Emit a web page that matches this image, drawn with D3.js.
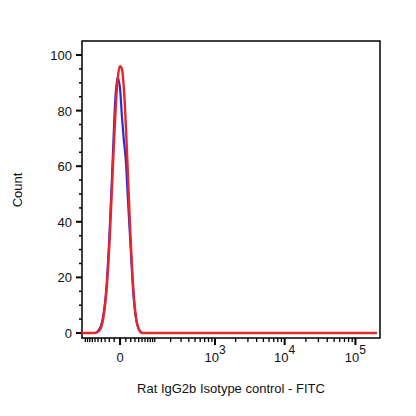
<!DOCTYPE html><html><head><script src="https://cdn.jsdelivr.net/npm/d3@7"></script>
<style>body{margin:0;background:#fff}text{font-family:"Liberation Sans",Arial,sans-serif;fill:#111}</style></head><body>
<svg id="c" width="416" height="416"></svg>
<script>
const redX=[-120,-60,-45,-35,-25,-18,-12,-7,-3,0,3,7,12,18,25,32,40,50,70,200000];
const redY=[0,0,1,5,18,38,62,82,93,96,95,86,66,40,18,6,1.5,0,0,0];
const blueX=[-120,-60,-48,-38,-28,-20,-13,-8,-4,0,3,6,10,14,20,26,33,42,52,70,200000];
const blueY=[0,0,1,4,14,34,62,84,92,88,78,70,62,48,30,14,5,1,0,0,0];
const yTicks=[0,20,40,60,80,100];
const xMajor=[0,1000,10000,100000];
const xMajorLabels=["0","3","4","5"];
const xLabel="Rat IgG2b Isotype control - FITC", yLabel="Count";

const svg=d3.select("#c");
const L=82,R=380,T=41,B=338;
const x=d3.scaleSymlog().constant(48).domain([-117,222000]).range([L,R]);
const y=d3.scaleLinear().domain([0,100]).range([333,55]);
svg.append("rect").attr("x",L).attr("y",T).attr("width",R-L).attr("height",B-T).attr("fill","none").attr("stroke","#000").attr("stroke-width",1.5);
d3.range(0,101,5).forEach(v=>{const maj=v%20===0;
 svg.append("line").attr("x1",L).attr("x2",L-(maj?6:3)).attr("y1",y(v)).attr("y2",y(v)).attr("stroke","#000").attr("stroke-width",maj?2:1.5);});
yTicks.forEach(v=>svg.append("text").attr("x",L-10).attr("y",y(v)+5).attr("text-anchor","end").attr("font-size",13).text(v));
const minors=[];
[-100,-90,-80,-70,-60,-50,-40,-30,-20,-10,10,20,30,40,50,60,70,80,90,100].forEach(v=>minors.push(v));
[100,1000,10000].forEach(d=>{for(let k=2;k<=9;k++)minors.push(k*d);});
minors.forEach(v=>svg.append("line").attr("x1",x(v)).attr("x2",x(v)).attr("y1",B).attr("y2",B+4).attr("stroke","#000").attr("stroke-width",1.3));
xMajor.forEach((v,i)=>{svg.append("line").attr("x1",x(v)).attr("x2",x(v)).attr("y1",B).attr("y2",B+7).attr("stroke","#000").attr("stroke-width",2);
 const t=svg.append("text").attr("x",x(v)).attr("y",362).attr("text-anchor","middle").attr("font-size",13);
 if(v===0)t.text("0"); else {t.append("tspan").text("10");t.append("tspan").attr("dy",-8).attr("font-size",12).text(xMajorLabels[i]);}
});
svg.append("text").attr("x",231).attr("y",393).attr("text-anchor","middle").attr("font-size",13).text(xLabel);
svg.append("text").attr("transform","translate(22,190) rotate(-90)").attr("text-anchor","middle").attr("font-size",13).text(yLabel);
const line=d3.line().x(d=>x(d[0])).y(d=>y(d[1])).curve(d3.curveMonotoneX);
svg.append("path").datum(blueX.map((v,i)=>[v,blueY[i]])).attr("d",line).attr("fill","none").attr("stroke","#2a2ad8").attr("stroke-width",2.2);
svg.append("path").datum(redX.map((v,i)=>[v,redY[i]])).attr("d",line).attr("fill","none").attr("stroke","#e8262a").attr("stroke-width",2.4);
</script></body></html>
